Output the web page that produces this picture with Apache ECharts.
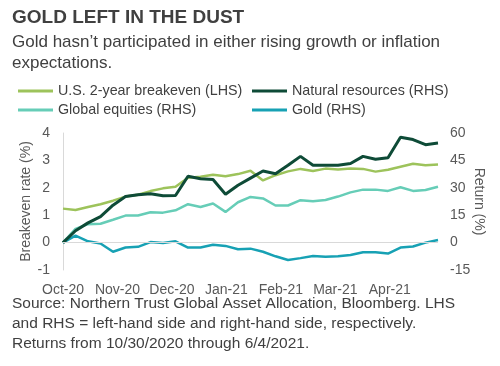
<!DOCTYPE html>
<html>
<head>
<meta charset="utf-8">
<script src="https://cdn.jsdelivr.net/npm/echarts@6/dist/echarts.min.js"></script>
<style>
html,body{margin:0;padding:0;background:#fff;}
#chart{width:500px;height:366px;}
</style>
</head>
<body>
<div id="chart"></div>
<script>
// ---- data (weekly, 10/30/2020 .. 5/28/2021) ----
var dates = ['2020-10-30','2020-11-06','2020-11-13','2020-11-20','2020-11-27','2020-12-04','2020-12-11','2020-12-18','2020-12-25',
  '2021-01-01','2021-01-08','2021-01-15','2021-01-22','2021-01-29','2021-02-05','2021-02-12','2021-02-19','2021-02-26',
  '2021-03-05','2021-03-12','2021-03-19','2021-03-26','2021-04-02','2021-04-09','2021-04-16','2021-04-23','2021-04-30',
  '2021-05-07','2021-05-14','2021-05-21','2021-05-28'];
var breakeven = [1.24,1.19,1.30,1.40,1.53,1.68,1.75,1.88,1.98,2.04,2.37,2.40,2.48,2.42,2.50,2.62,2.27,2.46,2.60,2.69,2.61,2.70,2.67,2.70,2.69,2.59,2.66,2.77,2.88,2.82,2.85];
var naturalResources = [0,6.5,10.8,14.2,20.5,25.2,26.2,26.7,25.6,25.8,36.3,35.0,34.5,26.5,31.4,35.3,39.2,37.7,42.3,47.2,42.3,42.3,42.3,43.3,47.2,45.6,46.5,57.7,56.4,53.6,54.5];
var globalEquities = [0,7.5,10.1,10.3,12.5,14.8,14.8,16.6,16.4,17.7,21.0,19.5,21.4,16.8,22.1,25.0,24.2,20.3,20.3,23.2,22.6,23.3,25.2,27.5,29.0,29.0,28.3,30.3,28.3,28.8,30.6];
var gold = [0,3.8,0.7,-0.5,-5.0,-2.7,-2.3,0.3,-0.2,0.7,-2.7,-2.7,-1.2,-1.8,-3.6,-3.3,-5.0,-7.5,-9.5,-8.5,-7.3,-7.7,-7.5,-6.8,-5.3,-5.3,-6.0,-2.7,-2.1,0.0,1.4];
var xTickLabels = ['Oct-20','Nov-20','Dec-20','Jan-21','Feb-21','Mar-21','Apr-21'];
var seriesNames = ['U.S. 2-year breakeven (LHS)','Natural resources (RHS)','Global equities (RHS)','Gold (RHS)'];

// ---- build ----
var FONT = "'Liberation Sans', Arial, sans-serif";
var TXT = '#404040';
var t0 = Date.parse(dates[0] + 'T00:00:00Z');
function dayOf(d){ return Math.round((Date.parse(d + 'T00:00:00Z') - t0) / 86400000); }
function pairs(vals){ return vals.map(function(v,i){ return [dayOf(dates[i]), v]; }); }
var lastDay = dayOf(dates[dates.length-1]);
var monthStep = 30.5;

var colors = {
  be: '#9DC35B',
  nr: '#0E4B37',
  ge: '#66CDB7',
  au: '#17A1B4'
};

function legendItem(name, color, left, top){
  return {
    data: [{name: name, icon: 'rect', itemStyle: {color: color}}],
    left: left, top: top,
    itemWidth: 35, itemHeight: 3,
    padding: 0,
    selectedMode: false,
    textStyle: {fontFamily: FONT, fontSize: 14.3, color: TXT}
  };
}

var chart = echarts.init(document.getElementById('chart'), null, {renderer: 'canvas'});
chart.setOption({
  animation: false,
  backgroundColor: '#ffffff',
  graphic: [
    {type: 'text', left: 12, top: 8, style: {text: 'GOLD LEFT IN THE DUST', font: 'bold 19px ' + FONT, fill: TXT}},
    {type: 'text', left: 12, top: 32, style: {text: 'Gold hasn\u2019t participated in either rising growth or inflation\nexpectations.', font: '17px ' + FONT, fill: TXT, lineHeight: 21}},
    {type: 'text', left: 12, top: 294, style: {text: 'Source: Northern Trust Global Asset Allocation, Bloomberg. LHS\nand RHS = left-hand side and right-hand side, respectively.\nReturns from 10/30/2020 through 6/4/2021.', font: '15.5px ' + FONT, fill: TXT, lineHeight: 20}}
  ],
  legend: [
    legendItem(seriesNames[0], colors.be, 18, 84),
    legendItem(seriesNames[1], colors.nr, 252, 84),
    legendItem(seriesNames[2], colors.ge, 18, 103),
    legendItem(seriesNames[3], colors.au, 252, 103)
  ],
  grid: {left: 63, right: 62, top: 133, bottom: 96, containLabel: false},
  xAxis: {
    type: 'value', min: 0, max: lastDay, interval: monthStep,
    axisLine: {show: false}, axisTick: {show: false}, splitLine: {show: false},
    axisLabel: {
      fontFamily: FONT, fontSize: 14, color: '#595959', margin: 13,
      showMaxLabel: false,
      formatter: function(v){ var k = Math.round(v / monthStep); return (Math.abs(k*monthStep - v) < 0.01 && xTickLabels[k]) ? xTickLabels[k] : ''; }
    }
  },
  yAxis: [
    {
      type: 'value', min: -1, max: 4, interval: 1, position: 'left',
      name: 'Breakeven rate (%)', nameLocation: 'middle', nameGap: 30, nameMoveOverlap: false,
      nameTextStyle: {fontFamily: FONT, fontSize: 14, color: '#595959'},
      axisLine: {show: true, lineStyle: {color: '#d9d9d9', width: 1}},
      axisTick: {show: false}, splitLine: {show: false},
      axisLabel: {fontFamily: FONT, fontSize: 14, color: '#595959', margin: 13}
    },
    {
      type: 'value', min: -15, max: 60, interval: 15, position: 'right',
      name: 'Return (%)', nameLocation: 'middle', nameGap: 34, nameRotate: -90, nameMoveOverlap: false,
      nameTextStyle: {fontFamily: FONT, fontSize: 14, color: '#595959'},
      axisLine: {show: false}, axisTick: {show: false}, splitLine: {show: false},
      axisLabel: {fontFamily: FONT, fontSize: 14, color: '#595959', margin: 12}
    }
  ],
  series: [
    {
      name: seriesNames[0], type: 'line', yAxisIndex: 0, data: pairs(breakeven),
      showSymbol: false, symbol: 'none', lineStyle: {color: colors.be, width: 2.5}, itemStyle: {color: colors.be},
      markLine: {silent: true, symbol: 'none', label: {show: false},
        lineStyle: {color: '#d9d9d9', width: 1, type: 'solid'}, data: [{yAxis: 0}]}
    },
    {
      name: seriesNames[2], type: 'line', yAxisIndex: 1, data: pairs(globalEquities),
      showSymbol: false, symbol: 'none', lineStyle: {color: colors.ge, width: 2.5}, itemStyle: {color: colors.ge}
    },
    {
      name: seriesNames[3], type: 'line', yAxisIndex: 1, data: pairs(gold),
      showSymbol: false, symbol: 'none', lineStyle: {color: colors.au, width: 2.5}, itemStyle: {color: colors.au}
    },
    {
      name: seriesNames[1], type: 'line', yAxisIndex: 1, data: pairs(naturalResources),
      showSymbol: false, symbol: 'none', lineStyle: {color: colors.nr, width: 3}, itemStyle: {color: colors.nr}
    }
  ]
});
</script>
</body>
</html>
